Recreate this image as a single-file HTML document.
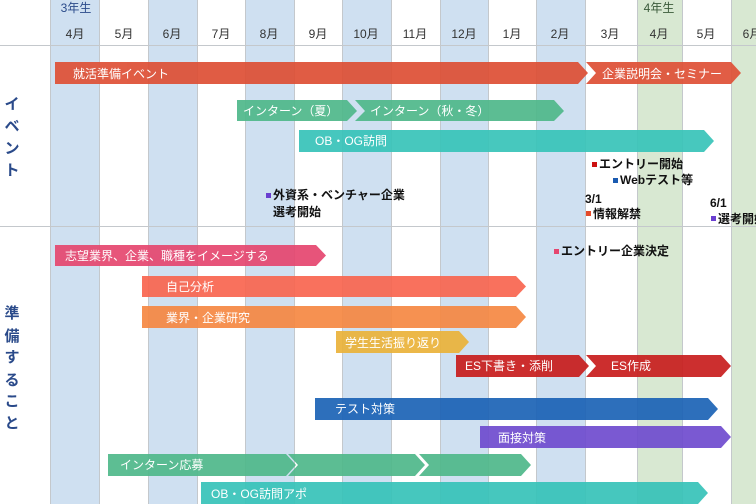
<!DOCTYPE html>
<html><head><meta charset="utf-8"><style>
html,body{margin:0;padding:0;background:#fff;}
svg{display:block;font-family:"Liberation Sans","Noto Sans CJK JP",sans-serif;}
</style></head><body>
<svg width="756" height="504" viewBox="0 0 756 504" xmlns="http://www.w3.org/2000/svg">
<!-- column shading -->
<g>
<rect x="50" y="0" width="49" height="504" fill="#cfe0f1"/>
<rect x="148" y="0" width="49" height="504" fill="#cfe0f1"/>
<rect x="245" y="0" width="49" height="504" fill="#cfe0f1"/>
<rect x="342" y="0" width="49" height="504" fill="#cfe0f1"/>
<rect x="440" y="0" width="49" height="504" fill="#cfe0f1"/>
<rect x="536" y="0" width="50" height="504" fill="#cfe0f1"/>
<rect x="637" y="0" width="45" height="504" fill="#d8e8d2"/>
<rect x="731" y="0" width="25" height="504" fill="#d8e8d2"/>
</g>
<g stroke="#c4c8cc" stroke-width="1">
<line x1="50.5" y1="0" x2="50.5" y2="504"/>
<line x1="99.5" y1="0" x2="99.5" y2="504"/>
<line x1="148.5" y1="0" x2="148.5" y2="504"/>
<line x1="197.5" y1="0" x2="197.5" y2="504"/>
<line x1="245.5" y1="0" x2="245.5" y2="504"/>
<line x1="294.5" y1="0" x2="294.5" y2="504"/>
<line x1="342.5" y1="0" x2="342.5" y2="504"/>
<line x1="391.5" y1="0" x2="391.5" y2="504"/>
<line x1="440.5" y1="0" x2="440.5" y2="504"/>
<line x1="488.5" y1="0" x2="488.5" y2="504"/>
<line x1="536.5" y1="0" x2="536.5" y2="504"/>
<line x1="585.5" y1="0" x2="585.5" y2="504"/>
<line x1="637.5" y1="0" x2="637.5" y2="504"/>
<line x1="682.5" y1="0" x2="682.5" y2="504"/>
<line x1="731.5" y1="0" x2="731.5" y2="504"/>
<line x1="0" y1="45.5" x2="756" y2="45.5"/>
<line x1="0" y1="226.5" x2="756" y2="226.5"/>
</g>
<!-- header -->
<g font-size="12" fill="#333" text-anchor="middle">
<text x="75" y="38">4月</text><text x="124" y="38">5月</text><text x="172" y="38">6月</text>
<text x="221" y="38">7月</text><text x="269" y="38">8月</text><text x="318" y="38">9月</text>
<text x="366" y="38">10月</text><text x="415" y="38">11月</text><text x="464" y="38">12月</text>
<text x="512" y="38">1月</text><text x="560" y="38">2月</text><text x="610" y="38">3月</text>
<text x="659" y="38">4月</text><text x="706" y="38">5月</text><text x="752" y="38">6月</text>
</g>
<text x="76" y="12" font-size="12" fill="#2a4a8a" text-anchor="middle">3年生</text>
<text x="659" y="12" font-size="12" fill="#3a5a3a" text-anchor="middle">4年生</text>
<!-- side labels -->
<g font-size="15" font-weight="bold" fill="#2a4a8a" text-anchor="middle">
<text x="12" y="109">イ</text><text x="12" y="131">ベ</text><text x="12" y="153">ン</text><text x="12" y="175">ト</text>
<text x="12" y="318">準</text><text x="12" y="341">備</text><text x="12" y="362">す</text><text x="12" y="385">る</text><text x="12" y="406">こ</text><text x="12" y="428">と</text>
</g>
<!-- bars -->
<g opacity="0.92">
<polygon points="55,62 578,62 588,73 578,84 55,84" fill="#de4f35"/>
<polygon points="586,62 731,62 741,73 731,84 586,84 596,73" fill="#de4f35"/>
<polygon points="237,100 347,100 357,111 347,121 237,121" fill="#4fb88a"/>
<polygon points="355,100 554,100 564,111 554,121 355,121 365,111" fill="#4fb88a"/>
<polygon points="299,130 704,130 714,141 704,152 299,152" fill="#37c3b9"/>
<polygon points="55,245 316,245 326,255.5 316,266 55,266" fill="#e5466f"/>
<polygon points="142,276 516,276 526,286.5 516,297 142,297" fill="#f96650"/>
<polygon points="142,306 516,306 526,317 516,328 142,328" fill="#f68843"/>
<polygon points="336,331 459,331 469,342 459,353 336,353" fill="#ebb33a"/>
<polygon points="456,355 579,355 589,366 579,377 456,377" fill="#c81d1d"/>
<polygon points="586,355 721,355 731,366 721,377 586,377 596,366" fill="#c81d1d"/>
<polygon points="315,398 708,398 718,409 708,420 315,420" fill="#1c63b6"/>
<polygon points="480,426 721,426 731,437 721,448 480,448" fill="#6f4ccf"/>
<polygon points="108,454 286,454 296,465 286,476 108,476" fill="#4fb88a"/>
<polygon points="288,454 415,454 425,465 415,476 288,476 298,465" fill="#4fb88a"/>
<polygon points="419,454 521,454 531,465 521,476 419,476 429,465" fill="#4fb88a"/>
<polygon points="201,482 698,482 708,493 698,504 201,504" fill="#37c3b9"/>
</g>
<g font-size="12" fill="#fff">
<text x="73" y="78">就活準備イベント</text>
<text x="602" y="78">企業説明会・セミナー</text>
<text x="243" y="115">インターン（夏）</text>
<text x="370" y="115">インターン（秋・冬）</text>
<text x="315" y="145">OB・OG訪問</text>
<text x="65" y="260">志望業界、企業、職種をイメージする</text>
<text x="166" y="291">自己分析</text>
<text x="166" y="322">業界・企業研究</text>
<text x="345" y="347">学生生活振り返り</text>
<text x="465" y="370">ES下書き・添削</text>
<text x="611" y="370">ES作成</text>
<text x="335" y="413">テスト対策</text>
<text x="498" y="442">面接対策</text>
<text x="120" y="469">インターン応募</text>
<text x="211" y="498">OB・OG訪問アポ</text>
</g>
<!-- annotations -->
<g font-size="12" font-weight="bold" fill="#111">
<rect x="266" y="193" width="5" height="5" fill="#6a3fd0"/>
<text x="273" y="199">外資系・ベンチャー企業</text>
<text x="273" y="216">選考開始</text>
<rect x="592" y="162" width="5" height="5" fill="#cc1111"/>
<text x="599" y="168">エントリー開始</text>
<rect x="613" y="178" width="5" height="5" fill="#1a5ab0"/>
<text x="620" y="184">Webテスト等</text>
<text x="585" y="203">3/1</text>
<rect x="586" y="211" width="5" height="5" fill="#e44a2a"/>
<text x="593" y="218">情報解禁</text>
<text x="710" y="207">6/1</text>
<rect x="711" y="216" width="5" height="5" fill="#6a3fd0"/>
<text x="718" y="223">選考開始</text>
<rect x="554" y="249" width="5" height="5" fill="#e5466f"/>
<text x="561" y="255">エントリー企業決定</text>
</g>
</svg>
</body></html>
